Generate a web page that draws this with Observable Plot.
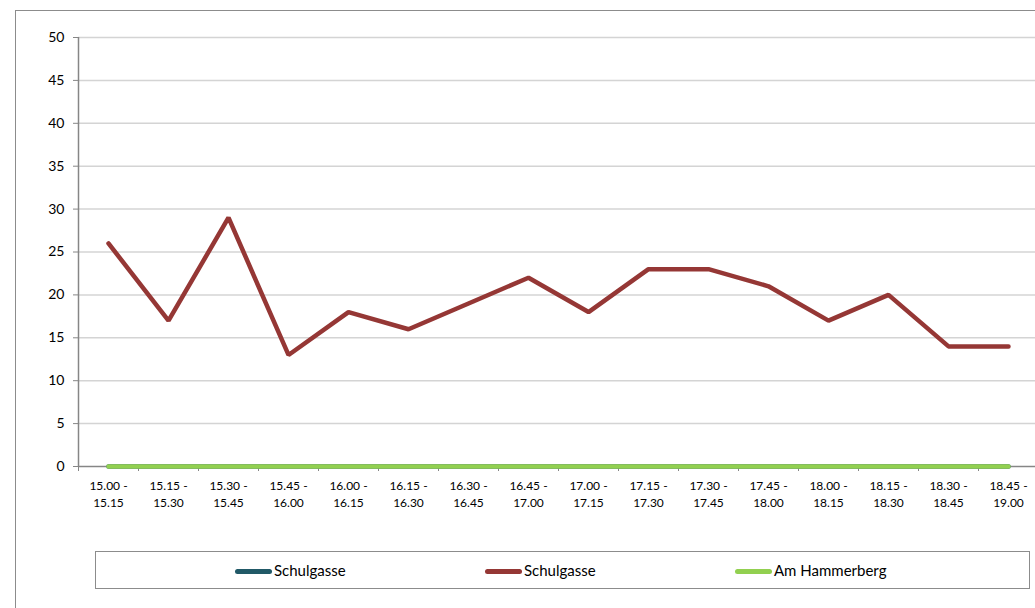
<!DOCTYPE html>
<html>
<head>
<meta charset="utf-8">
<script src="https://cdn.jsdelivr.net/npm/d3@7"></script>
<script src="https://cdn.jsdelivr.net/npm/@observablehq/plot@0.6"></script>
<style>
  html, body { margin: 0; padding: 0; background: #fff; }
  #wrap { position: relative; width: 1035px; height: 608px; overflow: hidden; font-family: Lato, "Open Sans", sans-serif; }
  #frame { position: absolute; left: 15px; top: 10px; width: 1100px; height: 700px; border: 1.5px solid #8c8c8c; box-sizing: border-box; }
  #chart { position: absolute; left: 0; top: 0; width: 1040px; }
  #chart svg { max-width: none !important; }
  #legend { position: absolute; left: 95px; top: 551px; width: 935px; height: 38px; border: 1px solid #8c8c8c; box-sizing: border-box; background: #fff; }
  .item { position: absolute; top: 10px; font-size: 15px; color: #000; line-height: 16px; white-space: nowrap; }
  .sw { display: inline-block; width: 37px; height: 5px; border-radius: 3px; vertical-align: middle; margin-right: 2px; position: relative; top: -1px; }
</style>
</head>
<body>
<div id="wrap">
  <div id="frame"></div>
  <div id="chart"></div>
  <div id="legend"></div>
</div>
<script>
const categories = ["15.00 - 15.15","15.15 - 15.30","15.30 - 15.45","15.45 - 16.00","16.00 - 16.15","16.15 - 16.30","16.30 - 16.45","16.45 - 17.00","17.00 - 17.15","17.15 - 17.30","17.30 - 17.45","17.45 - 18.00","18.00 - 18.15","18.15 - 18.30","18.30 - 18.45","18.45 - 19.00"];
const seriesNames = ["Schulgasse", "Schulgasse", "Am Hammerberg"];
const seriesColors = ["#215967", "#953735", "#92d050"];
const schulgasse1 = [0,0,0,0,0,0,0,0,0,0,0,0,0,0,0,0];
const schulgasse2 = [26,17,29,13,18,16,19,22,18,23,23,21,17,20,14,14];
const hammerberg = [0,0,0,0,0,0,0,0,0,0,0,0,0,0,0,0];
const yTicks = [0,5,10,15,20,25,30,35,40,45,50];

const allSeries = [schulgasse1, schulgasse2, hammerberg];
const rows = [];
allSeries.forEach((vals, s) => vals.forEach((v, i) => rows.push({s, i, v})));
const idx = categories.map((_, i) => i);
const bounds = d3.range(categories.length + 1).map(i => i - 0.5);

const chart = Plot.plot({
  width: 1040,
  height: 520,
  marginLeft: 78,
  marginRight: 2,
  marginTop: 37,
  marginBottom: 54,
  style: {fontFamily: "Lato, 'Open Sans', sans-serif", background: "transparent", maxWidth: "none"},
  x: {type: "linear", domain: [-0.5, categories.length - 0.5]},
  y: {domain: [0, 50]},
  marks: [
    Plot.gridY(yTicks.filter(t => t > 0), {stroke: "#d4d4d4", strokeOpacity: 1, strokeWidth: 1.5}),
    Plot.ruleY([0], {stroke: "#868686", strokeWidth: 1.5}),
    Plot.ruleX([-0.5], {stroke: "#868686", strokeWidth: 1.5}),
    Plot.axisY(yTicks, {tickSize: 5, tickPadding: 9, fontSize: 14, stroke: "#868686", color: "#000", label: null, tickFormat: d => String(d)}),
    Plot.axisX(bounds, {tickSize: 5, tickFormat: () => "", stroke: "#868686", label: null}),
    Plot.axisX(idx, {tickSize: 0, tickPadding: 12, fontSize: 12, lineHeight: 1.4, color: "#000", label: null, tickFormat: i => categories[i].replace(" - ", " -\n")}),
    Plot.line(rows, {x: "i", y: "v", z: "s", stroke: d => seriesColors[d.s], strokeWidth: 4.5, strokeLinejoin: "miter", strokeLinecap: "round"})
  ]
});
document.getElementById("chart").appendChild(chart);

const legend = document.getElementById("legend");
const lefts = [139, 389, 639];
seriesNames.forEach((name, s) => {
  const el = document.createElement("div");
  el.className = "item";
  el.style.left = lefts[s] + "px";
  el.innerHTML = `<span class="sw" style="background:${seriesColors[s]}"></span>${name}`;
  legend.appendChild(el);
});
</script>
</body>
</html>
